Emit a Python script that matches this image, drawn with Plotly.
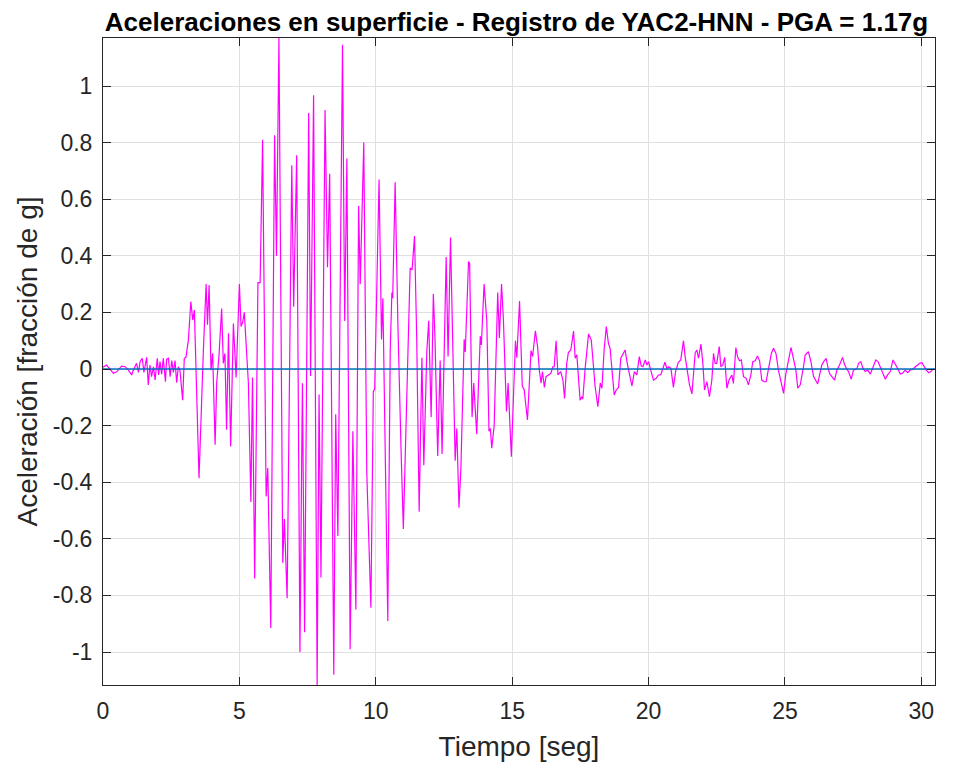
import plotly.graph_objects as go

tiempo = [0.00, 0.13, 0.23, 0.38, 0.50, 0.68, 0.81, 0.93, 1.05, 1.11, 1.23, 1.30, 1.36, 1.44, 1.50,
          1.60, 1.66, 1.72, 1.78, 1.85, 1.91, 1.99, 2.04, 2.09, 2.15, 2.21, 2.29, 2.33, 2.40, 2.46,
          2.52, 2.58, 2.64, 2.70, 2.76, 2.82, 2.92, 2.98, 3.04, 3.13, 3.22, 3.29, 3.35, 3.41, 3.52,
          3.68, 3.78, 3.83, 3.89, 3.96, 4.02, 4.11, 4.17, 4.25, 4.35, 4.41, 4.47, 4.53, 4.60, 4.68,
          4.78, 4.88, 5.00, 5.06, 5.12, 5.18, 5.27, 5.33, 5.42, 5.48, 5.56, 5.68, 5.76, 5.85, 5.98,
          6.04, 6.15, 6.29, 6.36, 6.45, 6.59, 6.65, 6.75, 6.92, 6.99, 7.10, 7.22, 7.31, 7.39, 7.54,
          7.61, 7.72, 7.85, 7.92, 7.99, 8.14, 8.23, 8.31, 8.46, 8.53, 8.61, 8.78, 8.86, 8.94, 9.06,
          9.16, 9.27, 9.37, 9.43, 9.56, 9.67, 9.82, 9.91, 9.96, 10.12, 10.21, 10.26, 10.44, 10.53, 10.59,
          10.62, 10.71, 10.81, 10.90, 10.93, 11.01, 11.16, 11.26, 11.33, 11.42, 11.50, 11.59, 11.69, 11.76, 11.87,
          11.94, 12.03, 12.11, 12.17, 12.27, 12.36, 12.43, 12.58, 12.65, 12.74, 12.82, 12.91, 12.97, 13.05, 13.12,
          13.24, 13.28, 13.40, 13.44, 13.53, 13.59, 13.70, 13.83, 13.87, 13.97, 14.07, 14.15, 14.20, 14.25, 14.34,
          14.47, 14.53, 14.61, 14.68, 14.79, 14.85, 14.97, 15.12, 15.17, 15.27, 15.37, 15.44, 15.56, 15.63, 15.69,
          15.75, 15.85, 15.93, 16.00, 16.06, 16.11, 16.18, 16.24, 16.33, 16.42, 16.49, 16.54, 16.61, 16.68, 16.78,
          16.86, 16.92, 17.00, 17.06, 17.15, 17.25, 17.31, 17.37, 17.43, 17.49, 17.55, 17.59, 17.67, 17.80, 17.90,
          17.96, 18.04, 18.14, 18.23, 18.29, 18.37, 18.45, 18.53, 18.59, 18.68, 18.74, 18.81, 18.90, 18.98, 19.08,
          19.14, 19.23, 19.30, 19.39, 19.48, 19.57, 19.66, 19.73, 19.79, 19.88, 19.94, 20.00, 20.08, 20.18, 20.28,
          20.36, 20.45, 20.52, 20.60, 20.67, 20.74, 20.82, 20.91, 20.99, 21.09, 21.18, 21.28, 21.34, 21.43, 21.50,
          21.59, 21.65, 21.71, 21.77, 21.83, 21.92, 21.99, 22.05, 22.14, 22.23, 22.32, 22.38, 22.44, 22.50, 22.59,
          22.65, 22.72, 22.79, 22.87, 22.95, 23.05, 23.11, 23.20, 23.26, 23.33, 23.40, 23.48, 23.58, 23.66, 23.75,
          23.82, 23.91, 23.99, 24.07, 24.15, 24.24, 24.31, 24.40, 24.50, 24.58, 24.67, 24.76, 24.86, 24.95, 25.03,
          25.13, 25.22, 25.32, 25.40, 25.47, 25.56, 25.68, 25.74, 25.86, 25.95, 26.05, 26.13, 26.20, 26.27, 26.35,
          26.42, 26.51, 26.57, 26.63, 26.72, 26.82, 26.90, 27.00, 27.11, 27.17, 27.25, 27.33, 27.43, 27.51, 27.64,
          27.70, 27.78, 27.86, 27.94, 28.03, 28.13, 28.22, 28.33, 28.41, 28.49, 28.59, 28.68, 28.76, 28.86, 28.96,
          29.04, 29.13, 29.23, 29.31, 29.41, 29.50, 29.59, 29.69, 29.78, 29.87, 29.94, 30.02, 30.11, 30.18, 30.27,
          30.35, 30.45]

aceleracion = [0.006, 0.014, 0.002, -0.015, -0.010, 0.010, 0.008, -0.004, -0.021, -0.004, 0.020, -0.012, 0.026, 0.038, -0.012,
               0.041, -0.056, 0.014, -0.027, 0.008, -0.039, 0.038, -0.021, 0.026, -0.018, 0.038, -0.045, 0.034, 0.038, -0.027,
               0.030, -0.012, 0.030, -0.048, 0.008, -0.004, -0.110, 0.038, 0.041, 0.102, 0.238, 0.173, 0.208, -0.004, -0.386,
               0.067, 0.300, 0.156, 0.297, -0.004, 0.055, -0.268, -0.045, 0.044, 0.214, 0.020, 0.055, -0.215, 0.126, -0.274,
               0.161, -0.030, 0.300, 0.150, 0.165, 0.200, 0.040, -0.050, -0.470, -0.030, -0.740, 0.305, 0.305, 0.810, -0.450,
               -0.350, -0.915, 0.826, 0.400, 1.170, -0.685, -0.530, -0.810, 0.720, 0.220, 0.755, -1.000, -0.050, -0.930, 0.905,
               -0.025, 0.967, -1.117, -0.090, -0.737, 0.915, 0.360, 0.690, -1.080, -0.160, -0.590, 1.146, 0.170, 0.744, -0.990,
               -0.220, -0.850, 0.576, 0.300, 0.800, -0.365, -0.844, -0.080, -0.070, 0.670, 0.104, 0.250, -0.890, 0.067, 0.270,
               0.250, 0.660, 0.160, -0.250, -0.300, -0.565, 0.050, 0.357, 0.350, 0.470, 0.114, -0.504, 0.040, -0.340, 0.060,
               0.170, -0.170, 0.265, 0.110, -0.307, 0.030, -0.300, 0.396, 0.044, 0.465, 0.090, -0.324, -0.210, -0.490, -0.350,
               0.105, 0.060, 0.380, 0.374, -0.170, -0.050, -0.230, 0.116, 0.085, 0.300, 0.170, -0.220, -0.210, -0.280, -0.200,
               0.270, 0.110, 0.300, 0.170, -0.150, -0.050, -0.310, 0.100, 0.040, 0.240, -0.060, -0.074, -0.180, -0.045, 0.065,
               0.044, 0.135, 0.080, -0.009, -0.050, -0.009, -0.065, -0.027, -0.021, -0.015, 0.008, 0.008, 0.100, -0.021, -0.009,
               -0.039, -0.104, 0.020, 0.058, 0.067, 0.134, 0.038, 0.050, -0.045, -0.110, -0.098, -0.106, -0.004, 0.124, 0.102,
               0.020, -0.062, -0.133, -0.050, -0.068, 0.067, 0.150, 0.090, 0.073, -0.015, -0.092, -0.075, -0.065, 0.038, 0.055,
               0.067, 0.014, -0.015, -0.060, -0.009, -0.021, 0.044, 0.011, 0.008, 0.032, 0.014, 0.026, -0.004, -0.039, -0.033,
               -0.021, -0.020, 0.002, 0.024, 0.002, 0.008, 0.002, -0.065, -0.009, 0.024, 0.032, 0.100, 0.044, -0.004, -0.056,
               -0.088, -0.027, 0.058, 0.067, 0.038, 0.088, 0.020, -0.074, -0.045, -0.098, -0.039, 0.055, 0.020, 0.020, 0.079,
               0.008, 0.014, 0.041, -0.068, -0.039, -0.021, -0.051, 0.076, 0.044, 0.029, 0.032, -0.027, -0.033, -0.056, -0.021,
               0.026, 0.029, 0.046, 0.029, -0.039, -0.045, -0.045, 0.002, 0.055, 0.073, 0.055, -0.004, -0.045, -0.086, -0.018,
               0.038, 0.076, 0.032, -0.004, -0.068, -0.056, 0.008, 0.049, 0.061, 0.026, -0.027, -0.039, -0.053, -0.021, 0.014,
               0.026, 0.038, 0.008, -0.015, -0.027, -0.039, -0.004, 0.014, 0.041, 0.020, 0.002, -0.009, -0.036, -0.004, 0.002,
               0.020, 0.026, 0.002, -0.009, -0.004, -0.018, 0.008, 0.032, 0.026, 0.008, -0.021, -0.036, -0.021, -0.009, 0.032,
               0.020, 0.002, -0.018, -0.015, -0.004, -0.013, -0.004, -0.001, 0.008, 0.014, 0.020, 0.022, 0.008, -0.004, -0.013,
               -0.009, 0.002]

x_ticks = [0, 5, 10, 15, 20, 25, 30]
y_ticks = [-1, -0.8, -0.6, -0.4, -0.2, 0, 0.2, 0.4, 0.6, 0.8, 1]
y_ticktext = ["-1", "-0.8", "-0.6", "-0.4", "-0.2", "0", "0.2", "0.4", "0.6", "0.8", "1"]
x_range = [0, 30.5]
y_range = [-1.1166, 1.1696]

font_family = "Liberation Sans, Arial, sans-serif"
dark = "#262626"
grid = "#dfdfdf"

fig = go.Figure()
fig.add_trace(go.Scatter(x=tiempo, y=aceleracion, mode="lines",
                         line=dict(color="#ff00ff", width=1.2), showlegend=False))
fig.add_trace(go.Scatter(x=x_range, y=[0, 0], mode="lines",
                         line=dict(color="#0072bd", width=1.3), showlegend=False))

axis_common = dict(showline=True, linecolor=dark, linewidth=1, mirror="allticks",
                   ticks="inside", ticklen=8, tickwidth=1, tickcolor=dark,
                   showgrid=True, gridcolor=grid, gridwidth=1, zeroline=False,
                   tickfont=dict(family=font_family, size=23, color=dark))

fig.update_xaxes(range=x_range, tickvals=x_ticks, ticktext=[str(v) for v in x_ticks],
                 ticklabelstandoff=5,
                 title=dict(text="Tiempo [seg]", font=dict(family=font_family, size=28, color=dark),
                            standoff=13),
                 **axis_common)
fig.update_yaxes(range=y_range, tickvals=y_ticks, ticktext=y_ticktext,
                 ticklabelstandoff=5,
                 title=dict(text="Aceleración [fracción de g]",
                            font=dict(family=font_family, size=28, color=dark), standoff=6),
                 **axis_common)

fig.update_layout(
    width=958, height=764,
    margin=dict(l=95, r=31, t=30, b=87, autoexpand=False),
    paper_bgcolor="white", plot_bgcolor="white",
    title=dict(text="<b>Aceleraciones en superficie - Registro de YAC2-HNN - PGA = 1.17g</b>",
               font=dict(family=font_family, size=26, color="black"),
               x=0.497, xanchor="center", xref="paper", y=1 - 14 / 764, yref="container",
               yanchor="middle"),
)

fig.write_html("out.html")
